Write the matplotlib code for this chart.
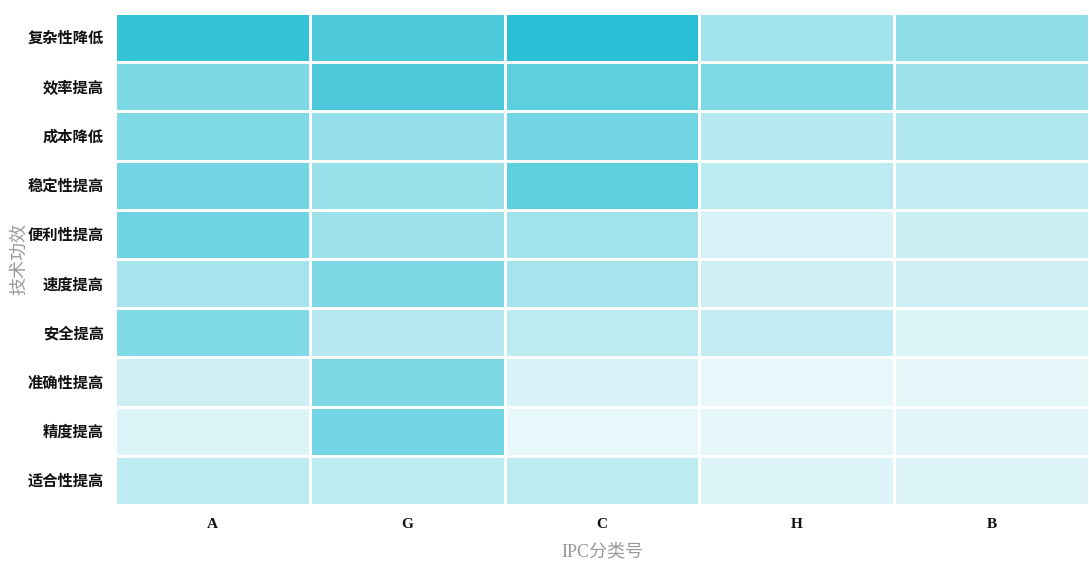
import matplotlib
matplotlib.use("Agg")
import matplotlib.pyplot as plt
import numpy as np
from matplotlib.colors import LinearSegmentedColormap

# 技术功效 x IPC分类号 heatmap data (relative intensity)
effects = ['复杂性降低', '效率提高', '成本降低', '稳定性提高', '便利性提高',
           '速度提高', '安全提高', '准确性提高', '精度提高', '适合性提高']
ipc = ['A', 'G', 'C', 'H', 'B']
values = np.array([
    [95, 83, 100, 44, 53],
    [61, 84, 75, 59, 45],
    [59, 50, 66, 34, 37],
    [66, 48, 75, 31, 28],
    [67, 45, 44, 19, 25],
    [42, 61, 42, 23, 23],
    [59, 34, 31, 28, 17],
    [23, 61, 19, 11, 12],
    [17, 66, 11, 12, 14],
    [31, 31, 31, 16, 16],
])

plt.rcParams['font.family'] = ['Liberation Serif', 'Noto Sans CJK SC', 'DejaVu Sans']

cmap = LinearSegmentedColormap.from_list('cyan', ['#ffffff', '#29bfd4'])

fig = plt.figure(figsize=(10.89, 5.61), dpi=100)
ax = fig.add_axes([115/1089, 1-505/561, 974/1089, 492/561])

ax.pcolormesh(values, cmap=cmap, vmin=0, vmax=100, edgecolors='white', linewidth=0.9)
ax.set_xlim(0, len(ipc))
ax.set_ylim(len(effects), 0)

ax.set_xticks(np.arange(len(ipc)) + 0.5)
ax.set_xticklabels(ipc, fontsize=11, fontweight='bold', color='#111111')
ax.set_yticks(np.arange(len(effects)) + 0.5)
ax.set_yticklabels(effects, fontsize=11, fontweight='bold', color='#111111')
ax.tick_params(axis='x', length=0, pad=9)
ax.tick_params(axis='y', length=0, pad=8)
for s in ax.spines.values():
    s.set_visible(False)

ax.set_xlabel('IPC分类号', fontsize=13, color='#999999')
ax.xaxis.set_label_coords(0.5, -0.078)
ax.set_ylabel('技术功效', fontsize=13, color='#999999', va='center')
ax.yaxis.set_label_coords(-0.098, 0.5)

fig.savefig('out.png', dpi=100)
